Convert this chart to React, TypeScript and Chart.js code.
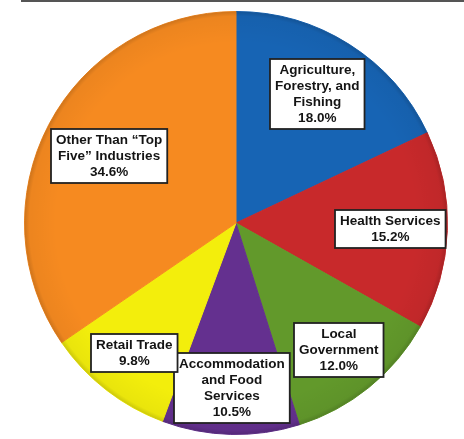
import React, { useEffect, useRef } from "react";
import { Chart, registerables } from "chart.js";

Chart.register(...registerables);

const categories = [
  "Agriculture, Forestry, and Fishing",
  "Health Services",
  "Local Government",
  "Accommodation and Food Services",
  "Retail Trade",
  "Other Than \u201CTop Five\u201D Industries",
];
const labelLines = [
  ["Agriculture,", "Forestry, and", "Fishing"],
  ["Health Services"],
  ["Local", "Government"],
  ["Accommodation", "and Food", "Services"],
  ["Retail Trade"],
  ["Other Than \u201CTop", "Five\u201D Industries"],
];
const values = [18.0, 15.2, 12.0, 10.5, 9.8, 34.6];
const colors = ["#1764b4", "#c8292b", "#62992b", "#64308f", "#f3ee0c", "#f68a20"];
const labelRadius = [0.72, 0.73, 0.77, 0.78, 0.78, 0.68];

const shadePlugin = {
  id: "shade",
  afterDatasetsDraw(chart: any) {
    const arc = chart.getDatasetMeta(0).data[0];
    if (!arc) return;
    const { x, y, outerRadius } = arc.getProps(["x", "y", "outerRadius"], true);
    const ctx = chart.ctx;
    ctx.save();
    const g = ctx.createRadialGradient(x, y, outerRadius * 0.85, x, y, outerRadius);
    g.addColorStop(0, "rgba(0,0,0,0)");
    g.addColorStop(0.85, "rgba(0,0,0,0.04)");
    g.addColorStop(1, "rgba(0,0,0,0.16)");
    ctx.fillStyle = g;
    ctx.beginPath();
    ctx.arc(x, y, outerRadius, 0, Math.PI * 2);
    ctx.fill();
    ctx.restore();
  },
};

const labelPlugin = {
  id: "boxLabels",
  afterDraw(chart: any) {
    const ctx = chart.ctx;
    const meta = chart.getDatasetMeta(0);
    const fontSize = 13.5;
    const lineH = 16;
    const padX = 5;
    const padY = 3;
    ctx.save();
    ctx.font = `bold ${fontSize}px "Liberation Sans", Arial, sans-serif`;
    meta.data.forEach((arc: any, i: number) => {
      const { x, y, startAngle, endAngle, outerRadius } = arc.getProps(
        ["x", "y", "startAngle", "endAngle", "outerRadius"],
        true
      );
      const mid = (startAngle + endAngle) / 2;
      const r = outerRadius * labelRadius[i];
      const cx = x + Math.cos(mid) * r;
      const cy = y + Math.sin(mid) * r;
      const lines = [...labelLines[i], values[i].toFixed(1) + "%"];
      const w = Math.max(...lines.map((l) => ctx.measureText(l).width)) + padX * 2;
      const h = lines.length * lineH + padY * 2;
      const bx = Math.round(cx - w / 2);
      const by = Math.round(cy - h / 2);
      ctx.fillStyle = "#ffffff";
      ctx.fillRect(bx, by, w, h);
      ctx.strokeStyle = "#222222";
      ctx.lineWidth = 1.8;
      ctx.strokeRect(bx, by, w, h);
      ctx.fillStyle = "#141414";
      ctx.textAlign = "center";
      ctx.textBaseline = "middle";
      lines.forEach((l, k) => {
        ctx.fillText(l, bx + w / 2, by + padY + lineH * k + lineH / 2 + 0.5);
      });
    });
    ctx.restore();
  },
};

export default function App() {
  const ref = useRef<HTMLCanvasElement>(null);
  useEffect(() => {
    if (!ref.current) return;
    const chart = new Chart(ref.current, {
      type: "pie",
      data: {
        labels: categories,
        datasets: [
          {
            data: values,
            backgroundColor: colors,
            borderColor: colors,
            borderWidth: 1,
          },
        ],
      },
      options: {
        responsive: false,
        animation: false,
        layout: { padding: { left: 24, right: 16, top: 11, bottom: 4 } },
        plugins: {
          legend: { display: false },
          tooltip: { enabled: false },
        },
      },
      plugins: [shadePlugin, labelPlugin],
    });
    return () => chart.destroy();
  }, []);
  return (
    <div style={{ position: "absolute", left: 0, top: 0, width: 464, height: 439, background: "#fff" }}>
      <div
        style={{
          position: "absolute",
          left: 21,
          top: 0,
          width: 443,
          height: 2,
          background: "#555",
        }}
      />
      <canvas ref={ref} width={464} height={439} style={{ display: "block", width: 464, height: 439 }} />
    </div>
  );
}
